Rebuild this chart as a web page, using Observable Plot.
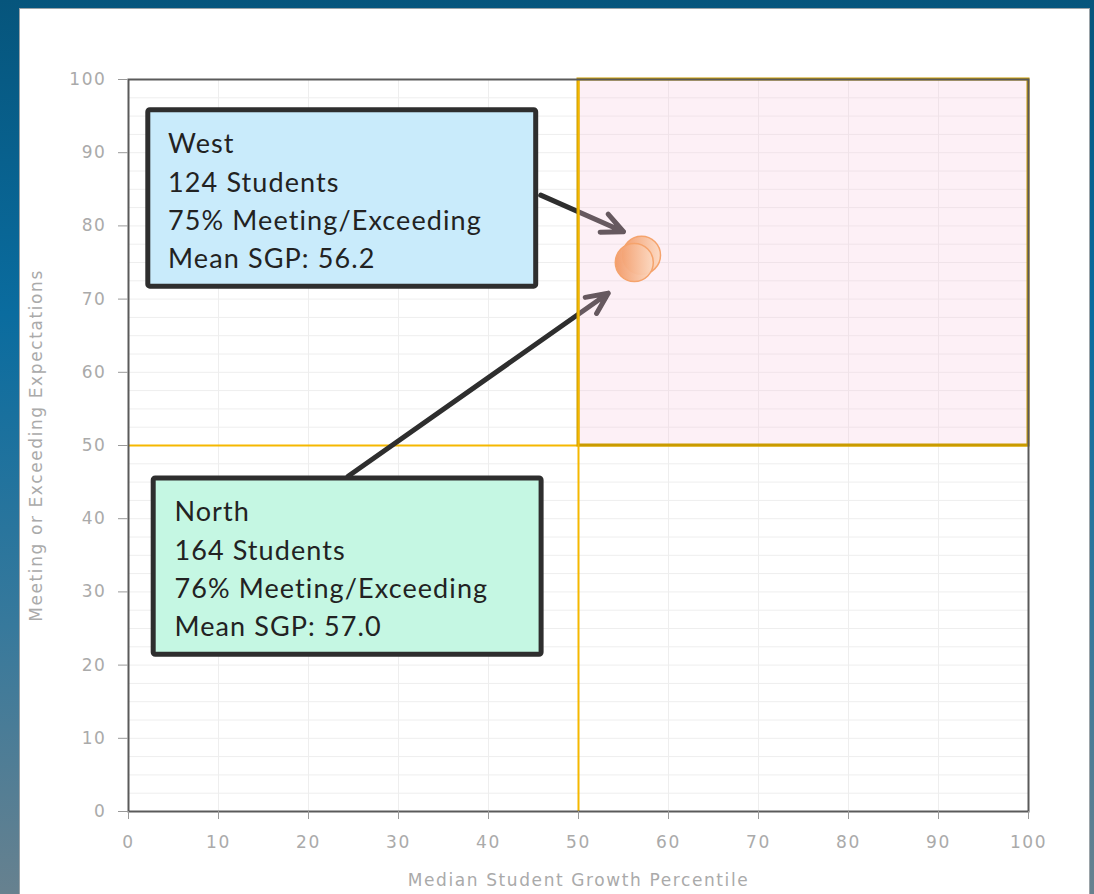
<!DOCTYPE html>
<html><head><meta charset="utf-8">
<script src="https://cdn.jsdelivr.net/npm/d3@7"></script>
<script src="https://cdn.jsdelivr.net/npm/@observablehq/plot@0.6"></script>
<style>
html,body{margin:0;padding:0;width:1094px;height:894px;overflow:hidden;}
body{background:linear-gradient(to bottom,#06557c 0%,#0a6c9f 35%,#37799c 70%,#67818f 100%);position:relative;}
#panel{position:absolute;left:19px;top:8px;width:1071px;height:900px;background:#fff;border:1px solid #9aa3a8;box-sizing:border-box;}
#chart{position:absolute;left:0;top:0;}
</style></head><body><div id="panel"></div><div id="chart"></div>
<script>
// ---- data ----
const schools = ["North", "West"];
const meanSGP = [57.0, 56.2];
const pctMeeting = [76, 75];
const studentCounts = [164, 124];
const xTicks = [0, 10, 20, 30, 40, 50, 60, 70, 80, 90, 100];
const yTicks = [0, 10, 20, 30, 40, 50, 60, 70, 80, 90, 100];
const threshold = 50;

// ---- callout layout (data units) ----
const calloutBox = {
  West:  {x1: 2.2, x2: 45.3, y1: 71.7, y2: 95.8, fill: "#c9ebfb", tx: 4.4, ax1: 45.8, ay1: 84.2, ax2: 55.0, ay2: 79.2},
  North: {x1: 2.8, x2: 45.9, y1: 21.4, y2: 45.5, fill: "#c5f7e3", tx: 5.1, ax1: 24.4, ay1: 45.8, ax2: 53.3, ay2: 70.8}
};

const rows = schools.map((s, i) => ({school: s, sgp: meanSGP[i], pct: pctMeeting[i], n: studentCounts[i]}));
const callouts = rows.map(r => ({...r, ...calloutBox[r.school],
  label: `${r.school}\n${r.n} Students\n${r.pct}% Meeting/Exceeding\nMean SGP: ${r.sgp.toFixed(1)}`}));
const minorY = d3.range(0, 100.01, 2.5);

const axisFont = "'DejaVu Sans', Verdana, sans-serif";
const plot = Plot.plot({
  width: 1094, height: 894,
  marginLeft: 128, marginRight: 66, marginTop: 79, marginBottom: 83,
  style: {background: "transparent", fontFamily: axisFont, fontSize: "17px", letterSpacing: "1.6px", overflow: "visible"},
  x: {domain: [0, 100]},
  y: {domain: [0, 100]},
  marks: [
    Plot.gridY(minorY, {stroke: "#eeeeee", strokeOpacity: 1}),
    Plot.gridX(xTicks, {stroke: "#eeeeee", strokeOpacity: 1}),
    Plot.ruleY([threshold], {x1: 0, x2: 100, stroke: "#f5b800", strokeWidth: 2}),
    Plot.arrow(callouts, {x1: "ax1", y1: "ay1", x2: "ax2", y2: "ay2", stroke: "#2e2e2e", strokeWidth: 5, headLength: 7, headAngle: 50, inset: 0}),
    Plot.rect([{}], {x1: threshold, x2: 100, y1: threshold, y2: 100, fill: "rgb(248,200,222)", fillOpacity: 0.28, stroke: "#c99b00", strokeWidth: 3}),
    Plot.ruleX([threshold], {y1: 0, y2: 100, stroke: "#f5b800", strokeWidth: 2}),
    Plot.rect(callouts, {x1: "x1", x2: "x2", y1: "y1", y2: "y2", fill: "fill", stroke: "#2e2e2e", strokeWidth: 5, rx: 2}),
    Plot.text(callouts, {x: "tx", y: d => (d.y1 + d.y2) / 2, text: "label", textAnchor: "start", lineAnchor: "middle", lineHeight: 1.42, fontSize: 27, fontFamily: "Lato, 'Open Sans', sans-serif", fill: "#222"}),
    Plot.dot(rows, {x: "sgp", y: "pct", r: 19, fill: "url(#dotgrad)", stroke: "#f5a36c", strokeWidth: 1.5, fillOpacity: 0.95}),
    Plot.frame({stroke: "#5a5a5a", strokeWidth: 2}),
    Plot.axisX({ticks: xTicks, tickSize: 8, tickPadding: 16, color: "#aaaaaa", stroke: "#999",
      label: "Median Student Growth Percentile", labelAnchor: "center", labelArrow: "none", labelOffset: 74}),
    Plot.axisY({ticks: yTicks, tickSize: 10, tickPadding: 12, color: "#aaaaaa", stroke: "#999",
      label: "Meeting or Exceeding Expectations", labelAnchor: "center", labelArrow: "none", labelOffset: 99})
  ]
});

// gradient for the bubbles
const svgns = "http://www.w3.org/2000/svg";
const defs = document.createElementNS(svgns, "defs");
const grad = document.createElementNS(svgns, "linearGradient");
grad.setAttribute("id", "dotgrad");
[["0%", "#f29966"], ["100%", "#fcd9c2"]].forEach(([o, c]) => {
  const s = document.createElementNS(svgns, "stop");
  s.setAttribute("offset", o); s.setAttribute("stop-color", c); grad.appendChild(s);
});
defs.appendChild(grad);
plot.insertBefore(defs, plot.firstChild);
// callout text spacing
plot.querySelectorAll("text").forEach(t => {
  if (t.textContent.includes("Students")) { t.style.letterSpacing = "1.1px"; }
});
document.getElementById("chart").appendChild(plot);
</script></body></html>
